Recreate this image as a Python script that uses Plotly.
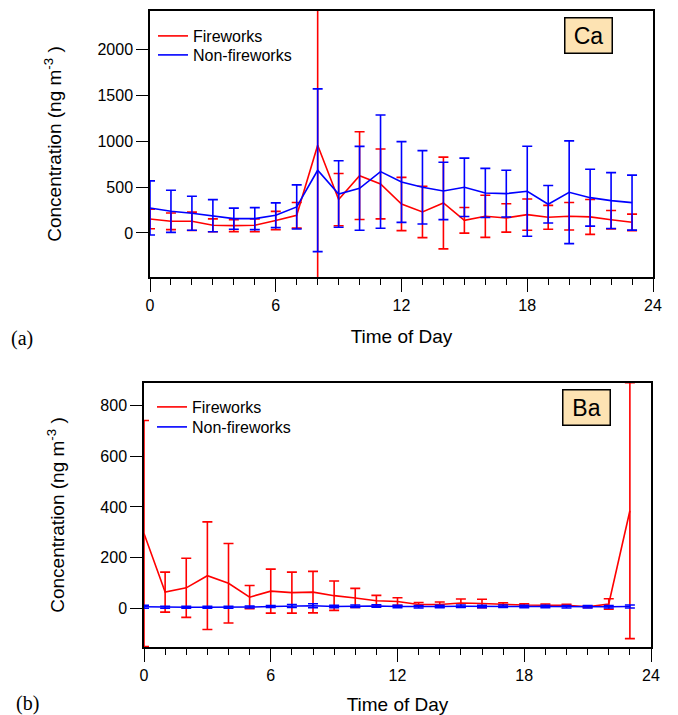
import plotly.graph_objects as go

hours = list(range(24))

# Panel (a): Ca
ca_fw = [153, 127, 127, 84, 80, 84, 135, 193, 956, 364, 625, 535, 316, 229, 327, 138, 182, 164, 200, 171, 182, 175, 145, 116]
ca_fw_err = [107, 90, 100, 70, 65, 70, 100, 140, 1600, 285, 478, 381, 290, 280, 500, 140, 230, 155, 170, 130, 150, 190, 100, 90]
ca_nf = [273, 236, 215, 189, 156, 156, 193, 284, 684, 425, 487, 669, 556, 498, 458, 498, 436, 429, 455, 313, 444, 385, 353, 331]
ca_nf_err = [295, 230, 185, 175, 115, 120, 135, 240, 887, 362, 457, 617, 440, 400, 313, 318, 268, 255, 490, 205, 560, 310, 305, 300]

# Panel (b): Ba
ba_fw = [295, 63, 80, 128, 98, 43, 67, 61, 63, 49, 40, 29, 26, 14, 14, 20, 18, 14, 12, 11, 11, 5, 16, 385]
ba_fw_err = [447, 79, 117, 213, 157, 46, 87, 81, 82, 58, 38, 21, 15, 8, 10, 16, 17, 7, 5, 5, 4, 3, 21, 506]
ba_nf = [5, 3, 3, 3, 3, 4, 6, 8, 9, 6, 7, 8, 6, 5, 6, 7, 6, 7, 6, 6, 5, 5, 5, 6]
ba_nf_err = [6, 4, 4, 4, 4, 4, 4, 6, 8, 5, 5, 5, 5, 5, 5, 5, 5, 5, 5, 5, 5, 5, 5, 6]

x_ticks = [0, 6, 12, 18, 24]
RED = "#FF0000"
BLUE = "#0000FF"
FONT = "Liberation Sans, Arial, sans-serif"

# page body has an 8px margin; the figure sits inside it
OFF = 8
W, H = 678 - 2 * OFF, 715 - OFF

def px(v):
    return (v - OFF) / W

def py(v):
    return 1 - (v - OFF) / H

fig = go.Figure()

def add_series(x, y, err, color, name, xa, ya, legend):
    fig.add_trace(go.Scatter(
        x=x, y=y, mode="lines", name=name,
        line=dict(color=color, width=1.6),
        error_y=dict(type="data", array=err, visible=True, color=color,
                     thickness=1.6, width=5),
        xaxis=xa, yaxis=ya, legend=legend, cliponaxis=True,
    ))

add_series(hours, ca_fw, ca_fw_err, RED, "Fireworks", "x", "y", "legend")
add_series(hours, ca_nf, ca_nf_err, BLUE, "Non-fireworks", "x", "y", "legend3")
add_series(hours, ba_fw, ba_fw_err, RED, "Fireworks", "x2", "y2", "legend2")
add_series(hours, ba_nf, ba_nf_err, BLUE, "Non-fireworks", "x2", "y2", "legend4")

xcommon = dict(
    range=[0, 24], tickvals=x_ticks, ticktext=[str(v) for v in x_ticks],
    ticks="outside", ticklen=13, tickwidth=1.2, tickcolor="black",
    minor=dict(dtick=1, ticks="outside", ticklen=6, tickwidth=1.2, tickcolor="black"),
    showline=True, linecolor="black", linewidth=1.5, mirror=True,
    showgrid=False, zeroline=False, automargin=False,
    tickfont=dict(family=FONT, size=16, color="black"),
    title=dict(text="Time of Day", font=dict(family=FONT, size=19, color="black"), standoff=17),
)
ycommon = dict(
    ticks="outside", ticklen=12, tickwidth=1.2, tickcolor="black",
    showline=True, linecolor="black", linewidth=1.5, mirror=True,
    showgrid=False, zeroline=False, automargin=False,
    tickfont=dict(family=FONT, size=16, color="black"),
    title=dict(text="Concentration (ng m<sup>-3</sup> )",
               font=dict(family=FONT, size=19, color="black"), standoff=31),
)

legfont = dict(family=FONT, size=16, color="black")

def leg(xv, yv):
    return dict(x=px(xv), y=py(yv), xanchor="left", yanchor="middle",
                bgcolor="rgba(0,0,0,0)", font=legfont, borderwidth=0)

fig.update_layout(
    width=W, height=H,
    margin=dict(l=0, r=0, t=0, b=0, autoexpand=False),
    paper_bgcolor="white", plot_bgcolor="white",
    showlegend=True,
    xaxis=dict(domain=[px(150), px(653)], anchor="y", **xcommon),
    yaxis=dict(domain=[py(277), py(11)], anchor="x", range=[-480, 2420],
               tickvals=[0, 500, 1000, 1500, 2000], **ycommon),
    xaxis2=dict(domain=[px(144), px(651)], anchor="y2", **xcommon),
    yaxis2=dict(domain=[py(647), py(383)], anchor="x2", range=[-154, 890],
                tickvals=[0, 200, 400, 600, 800], **ycommon),
    legend=leg(153, 36),
    legend3=leg(153, 55),
    legend2=leg(152, 407),
    legend4=leg(152, 427),
)

box = dict(bgcolor="#FDE3B3", bordercolor="black", borderwidth=1.5, borderpad=3,
           showarrow=False, font=dict(family=FONT, size=23, color="black"),
           width=40, height=28)
fig.add_annotation(text="Ca", xref="paper", yref="paper", x=px(588), y=py(35.5),
                   xanchor="center", yanchor="middle", **box)
fig.add_annotation(text="Ba", xref="paper", yref="paper", x=px(586.5), y=py(407.5),
                   xanchor="center", yanchor="middle", **box)

serif = dict(family="Liberation Serif, Times New Roman, serif", size=20, color="black")
fig.add_annotation(text="(a)", xref="paper", yref="paper", x=px(22), y=py(338),
                   xanchor="center", yanchor="middle", showarrow=False, font=serif)
fig.add_annotation(text="(b)", xref="paper", yref="paper", x=px(27), y=py(703),
                   xanchor="center", yanchor="middle", showarrow=False, font=serif)

fig.write_html("out.html")
